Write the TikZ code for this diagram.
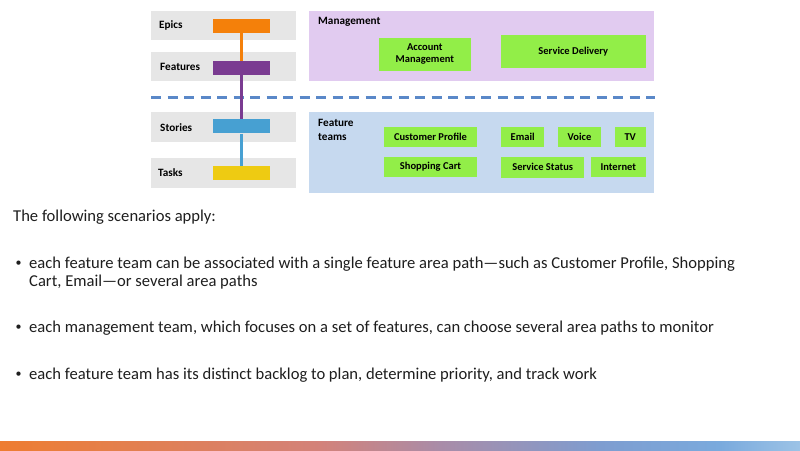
\documentclass[tikz,border=0pt]{standalone}
\usepackage{fontspec}
\setmainfont{Carlito}
\usepackage{tikz}

\definecolor{grayband}{HTML}{E6E6E6}
\definecolor{epiccol}{HTML}{F4800A}
\definecolor{featcol}{HTML}{7A3B91}
\definecolor{storycol}{HTML}{47A0D2}
\definecolor{taskcol}{HTML}{EECB12}
\definecolor{mgmtbg}{HTML}{E1CBF0}
\definecolor{teambg}{HTML}{C6D9EF}
\definecolor{areagreen}{HTML}{92EE48}
\definecolor{dashblue}{HTML}{5A88C8}
\definecolor{bodytext}{HTML}{1E1E1E}

\pgfdeclarehorizontalshading{footshade}{100bp}{color(0bp)=({rgb,255:red,238;green,125;blue,49});
  color(25bp)=({rgb,255:red,238;green,125;blue,49});
  color(45bp)=({rgb,255:red,211;green,130;blue,122});
  color(52.5bp)=({rgb,255:red,169;green,140;blue,168});
  color(62.5bp)=({rgb,255:red,126;green,157;blue,208});
  color(70bp)=({rgb,255:red,122;green,170;blue,221});
  color(75bp)=({rgb,255:red,156;green,195;blue,230});
  color(100bp)=({rgb,255:red,156;green,195;blue,230})}

\tikzset{
  band/.style={fill=grayband,minimum width=145pt,minimum height=29pt,inner sep=0pt},
  levelbar/.style={minimum width=57pt,minimum height=14pt,inner sep=0pt},
  levellabel/.style={anchor=west,inner sep=0pt,font=\bfseries\fontsize{11.2}{12.5}\selectfont},
  area/.style={fill=areagreen,inner sep=0pt,align=center,font=\bfseries\fontsize{10.5}{12.5}\selectfont},
  bodyline/.style={anchor=west,inner sep=0pt,text=bodytext,align=left,font=\fontsize{16.6}{18.5}\selectfont}
}

\begin{document}
\begin{tikzpicture}[x=1pt,y=-1pt]
    \useasboundingbox (0,0) rectangle (800,450);

    % backlog levels
    \node[band] (bepic) at (223.5,25.5) {};
    \node[band] (bfeat) at (223.5,66.5) {};
    \node[band,minimum height=30pt] (bstory) at (223.5,127.3) {};
    \node[band,minimum height=30pt] (btask) at (223.5,173) {};
    \node[levellabel] (lepic) at (159,25) {Epics};
    \node[levellabel] (lfeat) at (160,67) {Features};
    \node[levellabel] (lstory) at (160,128) {Stories};
    \node[levellabel] (ltask) at (158,173) {Tasks};

    % management and feature teams
    \node[fill=mgmtbg,minimum width=345pt,minimum height=70pt,inner sep=0pt] (mgmt) at (481.7,46) {};
    \node[fill=teambg,minimum width=345pt,minimum height=80.5pt,inner sep=0pt] (teams) at (481.5,152.5) {};
    \node[levellabel] (lmgmt) at (318,21.5) {Management};
    \node[levellabel,align=left,font=\bfseries\fontsize{11.2}{14}\selectfont] (lteams) at (318,130) {Feature\\teams};

    \foreach \n/\x/\y/\w/\h/\t in {acct/424.8/54.2/91.7/33/{Account\\Management},
                                   serv/573.3/51.8/144.7/33/{Service Delivery},
                                   cust/430.5/137.2/92.4/20.3/{Customer Profile},
                                   shop/430.5/166.8/92.4/20.3/{Shopping Cart},
                                   mail/522.7/137.2/43.3/20.3/{Email},
                                   voic/579.5/137.2/43/20.3/{Voice},
                                   tv/630.2/137.2/31/20.3/{TV},
                                   stat/542.7/167.2/83.3/21/{Service Status},
                                   inet/618.3/166.8/54.7/20.3/{Internet}}
        \node[area,minimum width=\w pt,minimum height=\h pt] (\n) at (\x,\y) {\t};

    % boundary between portfolio and team levels
    \coordinate (dl) at (151,97.3);
    \coordinate (dr) at (655,97.3);
    \draw[dashblue,line width=3pt,dash pattern=on 10pt off 6.5pt] (dl) -- (dr);

    % coloured bars and their links
    \node[levelbar,fill=epiccol] (epic) at (241.7,25.7) {};
    \node[levelbar,fill=featcol] (feat) at (241.7,68) {};
    \node[levelbar,fill=storycol] (story) at (241.7,126.3) {};
    \node[levelbar,fill=taskcol] (task) at (241.7,172.8) {};
    \draw[epiccol,line width=2.5pt] (epic.south) -- (feat.north);
    \draw[featcol,line width=2.5pt] (feat.south) -- (story.north);
    \draw[storycol,line width=2.5pt] (story.south) -- (task.north);

    % scenarios
    \node[bodyline] (intro) at (13,217.5) {The following scenarios apply:};
    \foreach \n/\y in {bul1/263.5,bul2/328,bul3/375}
        \node[anchor=west,inner sep=0pt,text=bodytext,font=\fontsize{12}{14}\selectfont] (\n) at (15.5,\y) {•};
    \node[bodyline] (sc1) at (29,273) {each feature team can be associated with a single feature area path—such as Customer Profile, Shopping\\Cart, Email—or several area paths};
    \node[bodyline] (sc2) at (29,328) {each management team, which focuses on a set of features, can choose several area paths to monitor};
    \node[bodyline] (sc3) at (29,375) {each feature team has its distinct backlog to plan, determine priority, and track work};

    % footer band
    \shade[shading=footshade] (0,441.7) rectangle (800,450);
\end{tikzpicture}
\end{document}
